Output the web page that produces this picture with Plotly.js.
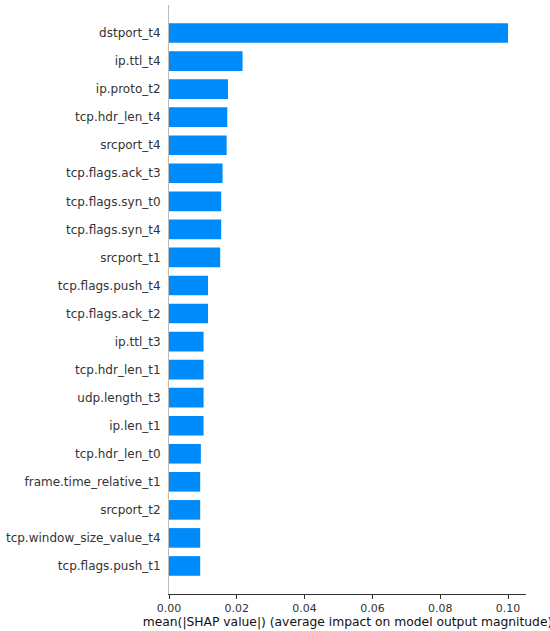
<!DOCTYPE html>
<html>
<head>
<meta charset="utf-8">
<script src="https://cdn.plot.ly/plotly-3.0.1.min.js"></script>
<style>html,body{margin:0;padding:0;background:#fff;}#chart{width:550px;height:631px;}</style>
</head>
<body>
<div id="chart"></div>
<script>
const features = [
  "dstport_t4", "ip.ttl_t4", "ip.proto_t2", "tcp.hdr_len_t4", "srcport_t4",
  "tcp.flags.ack_t3", "tcp.flags.syn_t0", "tcp.flags.syn_t4", "srcport_t1",
  "tcp.flags.push_t4", "tcp.flags.ack_t2", "ip.ttl_t3", "tcp.hdr_len_t1",
  "udp.length_t3", "ip.len_t1", "tcp.hdr_len_t0", "frame.time_relative_t1",
  "srcport_t2", "tcp.window_size_value_t4", "tcp.flags.push_t1"
];
const meanAbsShap = [
  0.1000, 0.0217, 0.0174, 0.0172, 0.0170,
  0.0158, 0.0154, 0.0154, 0.0151,
  0.0115, 0.0115, 0.0102, 0.0102,
  0.0102, 0.0102, 0.0094, 0.0092,
  0.0092, 0.0092, 0.0092
];
const xTickVals = [0, 0.02, 0.04, 0.06, 0.08, 0.10];
const xTickText = ["0.00", "0.02", "0.04", "0.06", "0.08", "0.10"];

const n = features.length;
const ypos = features.map((f, i) => n - 1 - i);

const trace = {
  type: "bar",
  orientation: "h",
  x: meanAbsShap,
  y: ypos,
  width: 0.7,
  marker: {color: "#008bfb", line: {width: 0}},
  hoverinfo: "skip"
};

const layout = {
  width: 550,
  height: 631,
  margin: {l: 169, r: 24, t: 5, b: 37},
  paper_bgcolor: "#fff",
  plot_bgcolor: "#fff",
  showlegend: false,
  font: {family: "DejaVu Sans", color: "#333333"},
  xaxis: {
    range: [0, 0.1053],
    tickvals: xTickVals,
    ticktext: xTickText,
    showgrid: false,
    zeroline: false,
    showline: true,
    linecolor: "#333333",
    linewidth: 1,
    ticks: "outside",
    ticklen: 3.5,
    tickcolor: "#333333",
    tickfont: {size: 11, color: "#333333"},
    title: {text: "mean(|SHAP value|) (average impact on model output magnitude)", font: {size: 12.3, color: "#111111"}, standoff: 3}
  },
  yaxis: {
    range: [-1, n],
    tickvals: ypos,
    ticktext: features,
    showgrid: false,
    zeroline: false,
    showline: true,
    linecolor: "#bbbbbb",
    linewidth: 1,
    ticks: "",
    ticklabelstandoff: 5,
    tickfont: {size: 12, color: "#333333"}
  }
};

Plotly.newPlot("chart", [trace], layout, {staticPlot: true, displayModeBar: false});
</script>
</body>
</html>
